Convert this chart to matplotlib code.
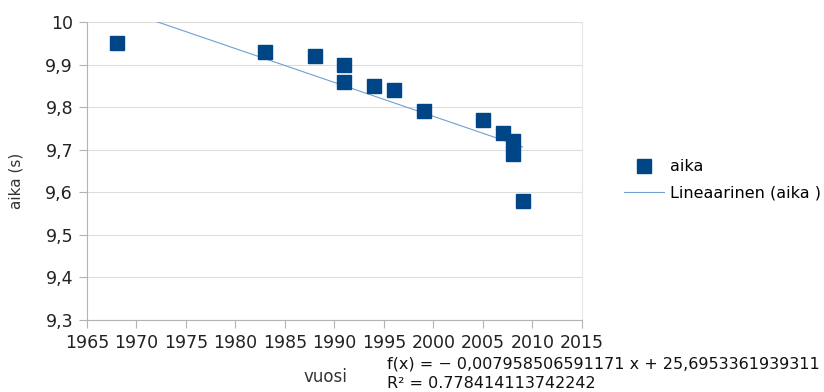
import numpy as np
import matplotlib
matplotlib.use("Agg")
import matplotlib.pyplot as plt

years = [1968, 1983, 1988, 1991, 1991, 1994, 1996, 1999, 2005, 2007, 2008, 2008, 2009]
times = [9.95, 9.93, 9.92, 9.90, 9.86, 9.85, 9.84, 9.79, 9.77, 9.74, 9.72, 9.69, 9.58]
xticks = [1965, 1970, 1975, 1980, 1985, 1990, 1995, 2000, 2005, 2010, 2015]
yticks = [9.3, 9.4, 9.5, 9.6, 9.7, 9.8, 9.9, 10.0]
ytick_labels = ["9,3", "9,4", "9,5", "9,6", "9,7", "9,8", "9,9", "10"]
eq_line1 = 'f(x) = − 0,007958506591171 x + 25,6953361939311'
eq_line2 = 'R² = 0.778414113742242'

plt.rcParams['font.family'] = ['DejaVu Sans']
fig = plt.figure(figsize=(8.24, 3.92), dpi=100)
ax = fig.add_axes([87/824, 1-320/392, (582-87)/824, (320-22)/392])

x = np.array(years, float); y = np.array(times, float)
slope, icpt = np.polyfit(x, y, 1)
xx = np.array([x.min(), x.max()])
ax.plot(xx, slope*xx+icpt, color='#729fcf', lw=0.8, label='Lineaarinen (aika )', zorder=2)
ax.plot(years, times, 's', color='#004586', ms=10.5, label='aika', zorder=3, linestyle='none')

ax.set_xlim(1965, 2015)
ax.set_ylim(9.3, 10.0)
ax.set_xticks(xticks)
ax.set_xticklabels([str(v) for v in xticks], fontsize=12.5)
ax.set_yticks(yticks)
ax.set_yticklabels(ytick_labels, fontsize=12.5)
ax.yaxis.grid(True, color='#dddddd', lw=0.8)
ax.set_axisbelow(True)
for s in ['left', 'bottom']:
    ax.spines[s].set_color('#b3b3b3')
ax.spines['top'].set_visible(False)
ax.spines['right'].set_color('#e6e6e6')
ax.tick_params(axis='both', colors='#b3b3b3', length=6, width=0.8, labelcolor='#222222', pad=4)

fig.text(16/824, 1-181/392, 'aika (s)', rotation=90, ha='center', va='center', fontsize=11, color='#333333')
fig.text(325/824, 1-377/392, 'vuosi', ha='center', va='center', fontsize=12, color='#333333')
fig.text(387/824, 1-364/392, eq_line1, ha='left', va='center', fontsize=11.5, color='#111111')
fig.text(387/824, 1-383/392, eq_line2, ha='left', va='center', fontsize=11.5, color='#111111')

h, l = ax.get_legend_handles_labels()
fig.legend([h[1], h[0]], [l[1], l[0]], loc='center left', bbox_to_anchor=(624/824, 1-180/392),
           frameon=False, fontsize=11.5, handlelength=2.5, handletextpad=0.4, numpoints=1,
           labelspacing=0.7, borderaxespad=0, borderpad=0)

fig.savefig('out.png', dpi=100)
